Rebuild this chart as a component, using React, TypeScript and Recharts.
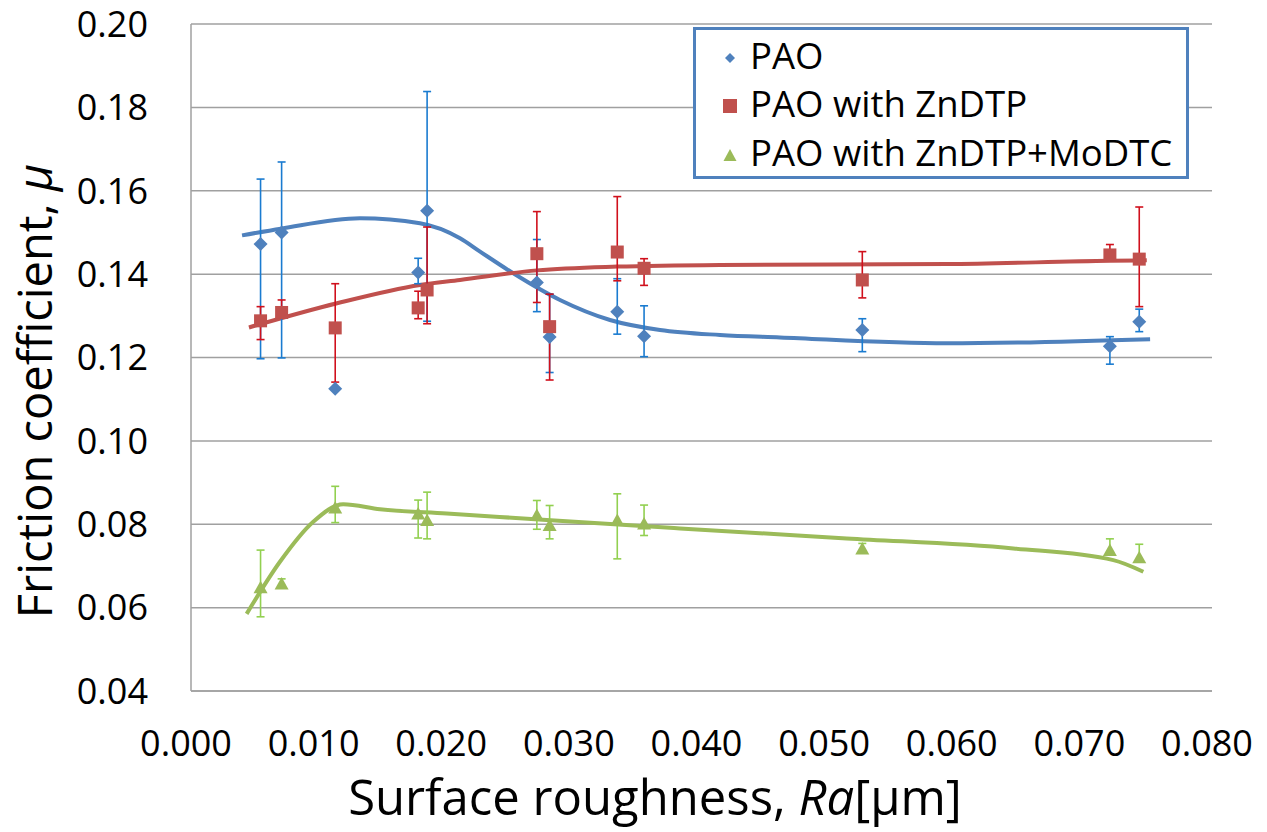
import React from 'react';
import {
  ComposedChart, XAxis, YAxis, CartesianGrid, Scatter, Line, ErrorBar, Legend, Label,
} from 'recharts';

// Surface roughness Ra [µm] for each test (shared by the three lubricants)
const roughness = [0.00545, 0.0071, 0.0113, 0.0178, 0.0185, 0.0271, 0.0281, 0.0334, 0.0355, 0.0526, 0.0720, 0.0743];

// PAO
const paoMean = [0.1472, 0.1500, 0.1125, 0.1404, 0.1552, 0.1380, 0.1249, 0.1310, 0.1251, 0.1266, 0.1227, 0.1286];
const paoHigh = [0.1628, 0.1669, 0.1125, 0.1438, 0.1838, 0.1483, 0.1352, 0.1389, 0.1324, 0.1293, 0.1250, 0.1316];
const paoLow = [0.1197, 0.1199, 0.1125, 0.1377, 0.1287, 0.1310, 0.1164, 0.1256, 0.1202, 0.1214, 0.1184, 0.1262];

// PAO with ZnDTP
const zndtpMean = [0.1288, 0.1308, 0.1271, 0.1319, 0.1362, 0.1449, 0.1274, 0.1453, 0.1414, 0.1386, 0.1446, 0.1436];
const zndtpHigh = [0.1322, 0.1338, 0.1377, 0.1359, 0.1513, 0.1550, 0.1352, 0.1586, 0.1437, 0.1454, 0.1471, 0.1561];
const zndtpLow = [0.1243, 0.1295, 0.1141, 0.1293, 0.1281, 0.1332, 0.1146, 0.1384, 0.1373, 0.1343, 0.1440, 0.1322];

// PAO with ZnDTP+MoDTC
const modtcMean = [0.0649, 0.0658, 0.0840, 0.0826, 0.0810, 0.0822, 0.0798, 0.0810, 0.0802, 0.0742, 0.0738, 0.0721];
const modtcHigh = [0.0738, 0.0669, 0.0891, 0.0858, 0.0877, 0.0857, 0.0845, 0.0873, 0.0846, 0.0754, 0.0765, 0.0752];
const modtcLow = [0.0578, 0.0650, 0.0804, 0.0767, 0.0765, 0.0788, 0.0765, 0.0717, 0.0773, 0.0735, 0.0730, 0.0712];

// Smoothed trend curves
const paoCurveX = [0.0040, 0.00705, 0.01324, 0.01794, 0.02108, 0.02265, 0.02525, 0.02891, 0.03283, 0.03675, 0.04145, 0.04615, 0.05922, 0.07515];
const paoCurveY = [0.1493, 0.1509, 0.1534, 0.1522, 0.1486, 0.1454, 0.1402, 0.1338, 0.1290, 0.1266, 0.1254, 0.1248, 0.1234, 0.1244];
const zndtpCurveX = [0.00454, 0.01144, 0.01794, 0.02108, 0.02711, 0.03338, 0.04145, 0.05922, 0.07201, 0.07489];
const zndtpCurveY = [0.1272, 0.1330, 0.1374, 0.1386, 0.1409, 0.1418, 0.1422, 0.1424, 0.1432, 0.1433];
const modtcCurveX = [0.00436, 0.00697, 0.00958, 0.01193, 0.01481, 0.02004, 0.02787, 0.03832, 0.05138, 0.06443, 0.07227, 0.07462];
const modtcCurveY = [0.0585, 0.0710, 0.0806, 0.0848, 0.0836, 0.0826, 0.0810, 0.0790, 0.0766, 0.0742, 0.0714, 0.0686];

const xTicks = [0, 0.01, 0.02, 0.03, 0.04, 0.05, 0.06, 0.07, 0.08];
const yTicks = [0.04, 0.06, 0.08, 0.10, 0.12, 0.14, 0.16, 0.18, 0.20];

const seriesNames = ['PAO', 'PAO with ZnDTP', 'PAO with ZnDTP+MoDTC'];

const BLUE = '#4f81bd';
const RED = '#c0504d';
const GREEN = '#9bbb59';
const BLUE_ERR = '#1a7bd0';
const RED_ERR = '#d0101c';
const GREEN_ERR = '#92d050';

const FONT = '"Open Sans", "Noto Sans", sans-serif';

const toPoints = (mean: number[], high: number[], low: number[]) =>
  roughness.map((x, i) => ({ x, y: mean[i], err: [mean[i] - low[i], high[i] - mean[i]] }));
const toCurve = (xs: number[], ys: number[]) => xs.map((x, i) => ({ x, y: ys[i] }));

const paoData = toPoints(paoMean, paoHigh, paoLow);
const zndtpData = toPoints(zndtpMean, zndtpHigh, zndtpLow);
const modtcData = toPoints(modtcMean, modtcHigh, modtcLow);
const paoCurve = toCurve(paoCurveX, paoCurveY);
const zndtpCurve = toCurve(zndtpCurveX, zndtpCurveY);
const modtcCurve = toCurve(modtcCurveX, modtcCurveY);

const Diamond = (props: any) => {
  const { cx, cy } = props;
  const r = 7;
  return <polygon points={`${cx},${cy - r} ${cx + r},${cy} ${cx},${cy + r} ${cx - r},${cy}`} fill={BLUE} />;
};
const Square = (props: any) => {
  const { cx, cy } = props;
  return <rect x={cx - 6.5} y={cy - 6.5} width={13} height={13} fill={RED} />;
};
const Triangle = (props: any) => {
  const { cx, cy } = props;
  return <polygon points={`${cx},${cy - 6.5} ${cx + 7},${cy + 6} ${cx - 7},${cy + 6}`} fill={GREEN} />;
};

const LegendBox = () => {
  const rowY = [28, 76, 125];
  const markers = [
    <svg key="m0" width="20" height="20" style={{ position: 'absolute', left: 24, top: rowY[0] - 10 }}>
      <polygon points="10,5 15,10 10,15 5,10" fill={BLUE} />
    </svg>,
    <svg key="m1" width="20" height="20" style={{ position: 'absolute', left: 24, top: rowY[1] - 10 }}>
      <rect x="3" y="3" width="14" height="14" fill={RED} />
    </svg>,
    <svg key="m2" width="20" height="20" style={{ position: 'absolute', left: 24, top: rowY[2] - 10 }}>
      <polygon points="10,4 16.5,16 3.5,16" fill={GREEN} />
    </svg>,
  ];
  return (
    <div
      style={{
        position: 'relative', width: 496, height: 152, boxSizing: 'border-box',
        border: `3px solid ${BLUE}`, background: '#fff', fontFamily: FONT,
      }}
    >
      {seriesNames.map((name, i) => (
        <React.Fragment key={name}>
          {markers[i]}
          <div
            style={{
              position: 'absolute', left: 54, top: rowY[i] - 3 - 25, height: 50, lineHeight: '50px',
              fontSize: 36.5, color: '#000', whiteSpace: 'nowrap',
            }}
          >
            {name}
          </div>
        </React.Fragment>
      ))}
    </div>
  );
};

const XTitle = () => (
  <text x={655} y={815} textAnchor="middle" fontFamily={FONT} fontSize={49} fill="#000">
    Surface roughness, <tspan fontStyle="italic">Ra</tspan>[μm]
  </text>
);
const YTitle = () => (
  <text x={52} y={391} textAnchor="middle" fontFamily={FONT} fontSize={47} fill="#000" transform="rotate(-90 52 391)">
    Friction coefficient, <tspan fontStyle="italic">μ</tspan>
  </text>
);

export default function App() {
  return (
    <div style={{ position: 'absolute', left: 0, top: 0 }}>
      <ComposedChart width={1267} height={832} margin={{ top: 24, right: 55, bottom: 0, left: 0 }}>
        <CartesianGrid vertical={false} stroke="#a0a0a0" strokeWidth={1.5} />
        <XAxis
          type="number"
          dataKey="x"
          domain={[0, 0.08]}
          ticks={xTicks}
          tickFormatter={(v: number) => v.toFixed(3)}
          height={141}
          axisLine={{ stroke: '#a0a0a0', strokeWidth: 1.5 }}
          tickLine={false}
          tickMargin={33}
          tick={{ fill: '#000', fontSize: 36, fontFamily: FONT, dx: -5 }}
          allowDataOverflow
        >
          <Label content={() => <XTitle />} />
        </XAxis>
        <YAxis
          type="number"
          dataKey="y"
          domain={[0.04, 0.2]}
          ticks={yTicks}
          tickFormatter={(v: number) => v.toFixed(2)}
          width={191}
          axisLine={{ stroke: '#a0a0a0', strokeWidth: 1.5 }}
          tickLine={false}
          tickMargin={37}
          tick={{ fill: '#000', fontSize: 36, fontFamily: FONT }}
          allowDataOverflow
        >
          <Label content={() => <YTitle />} />
        </YAxis>
        <Legend
          layout="vertical"
          align="center"
          verticalAlign="middle"
          content={() => <LegendBox />}
          wrapperStyle={{ left: 693, top: 27, width: 496, height: 152 }}
        />
        <Line data={paoCurve} dataKey="y" type="monotone" stroke={BLUE} strokeWidth={4} dot={false} activeDot={false} isAnimationActive={false} legendType="none" />
        <Line data={zndtpCurve} dataKey="y" type="monotone" stroke={RED} strokeWidth={4} dot={false} activeDot={false} isAnimationActive={false} legendType="none" />
        <Line data={modtcCurve} dataKey="y" type="monotone" stroke={GREEN} strokeWidth={4} dot={false} activeDot={false} isAnimationActive={false} legendType="none" />
        <Scatter name={seriesNames[0]} data={paoData} dataKey="y" shape={<Diamond />} isAnimationActive={false}>
          <ErrorBar dataKey="err" direction="y" width={4} stroke={BLUE_ERR} strokeWidth={1.6} isAnimationActive={false} />
        </Scatter>
        <Scatter name={seriesNames[1]} data={zndtpData} dataKey="y" shape={<Square />} isAnimationActive={false}>
          <ErrorBar dataKey="err" direction="y" width={4} stroke={RED_ERR} strokeWidth={1.6} isAnimationActive={false} />
        </Scatter>
        <Scatter name={seriesNames[2]} data={modtcData} dataKey="y" shape={<Triangle />} isAnimationActive={false}>
          <ErrorBar dataKey="err" direction="y" width={4} stroke={GREEN_ERR} strokeWidth={1.6} isAnimationActive={false} />
        </Scatter>
      </ComposedChart>
    </div>
  );
}
